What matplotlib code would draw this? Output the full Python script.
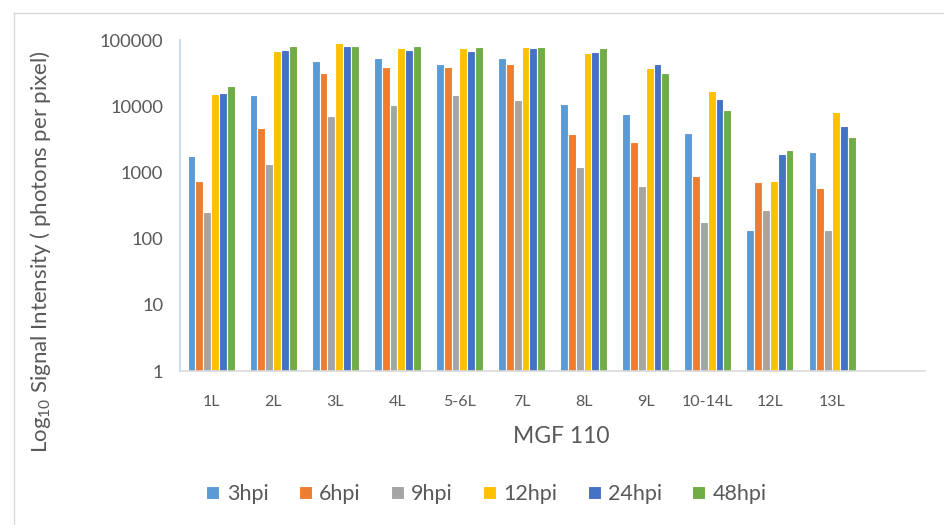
import numpy as np
import matplotlib
matplotlib.use('Agg')
import matplotlib.pyplot as plt
from matplotlib.lines import Line2D

plt.rcParams['font.family'] = ['Lato', 'DejaVu Sans']
plt.rcParams['mathtext.fontset'] = 'custom'
plt.rcParams['mathtext.rm'] = 'Lato'

# values (photons per pixel)
categories = ['1L', '2L', '3L', '4L', '5-6L', '7L', '8L', '9L', '10-14L', '12L', '13L']
series = ['3hpi', '6hpi', '9hpi', '12hpi', '24hpi', '48hpi']
hpi_3 = [1800, 14600, 47700, 52900, 43000, 52900, 10900, 7600, 4000, 135, 2000]
hpi_6 = [740, 4650, 31700, 38700, 39100, 43900, 3800, 2850, 890, 725, 580]
hpi_9 = [250, 1350, 7200, 10400, 14800, 12400, 1220, 620, 178, 268, 135]
hpi_12 = [15100, 68200, 90100, 74900, 74900, 78400, 64300, 38200, 16800, 740, 8260]
hpi_24 = [15800, 69900, 80300, 69900, 68200, 74900, 65900, 43000, 13000, 1920, 4970]
hpi_48 = [20400, 81200, 81200, 81200, 77600, 78400, 74900, 31700, 8670, 2150, 3390]
colors = ['#5B9BD5', '#ED7D31', '#A5A5A5', '#FFC000', '#4472C4', '#70AD47']

text_color = '#595959'

fig = plt.figure(figsize=(9.45, 5.25), dpi=100)
ax = fig.add_axes([0.1905, 0.2933, 0.7885, 0.6305])

x = np.arange(len(categories))
group = 0.757
w = group / len(series)
for i, (name, vals) in enumerate(zip(series, [hpi_3, hpi_6, hpi_9, hpi_12, hpi_24, hpi_48])):
    ax.bar(x - group / 2 + w * (i + 0.5), vals, width=w, color=colors[i],
           edgecolor='white', linewidth=0.8, label=name, zorder=2)

ax.set_yscale('log')
ax.set_ylim(1, 100000)
ax.set_xlim(-0.5, 11.5)
ax.set_yticks([1, 10, 100, 1000, 10000, 100000])
ax.set_yticklabels(['1', '10', '100', '1000', '10000', '100000'])
ax.yaxis.set_minor_locator(matplotlib.ticker.NullLocator())
ax.set_xticks(x)
ax.set_xticklabels(categories)
ax.tick_params(axis='y', length=0, pad=12, labelsize=13.2, labelcolor=text_color)
ax.tick_params(axis='x', length=0, pad=17, labelsize=11.5, labelcolor=text_color)

for s in ['top', 'right']:
    ax.spines[s].set_visible(False)
ax.spines['bottom'].set_color('#D9D9D9')
ax.spines['bottom'].set_linewidth(1.2)
ax.spines['left'].set_color('#BDD7EE')
ax.spines['left'].set_linewidth(1.2)

ax.set_ylabel('Log$_{10}$ Signal Intensity ( photons per pixel)', fontsize=16, color=text_color)
ax.yaxis.set_label_coords(-0.17, 0.36)
ax.set_xlabel('MGF 110', fontsize=16.5, color=text_color)
ax.xaxis.set_label_coords(0.511, -0.165)

fig.legend(loc='center', bbox_to_anchor=(0.515, 0.059), ncol=6, frameon=False,
           handlelength=0.6, handleheight=0.6, handletextpad=0.35, columnspacing=1.4,
           fontsize=15.5, labelcolor=text_color)

# light chart border (top and left edges visible)
fig.add_artist(Line2D([14 / 945, 1], [1 - 13 / 525, 1 - 13 / 525], color='#D9D9D9', lw=1))
fig.add_artist(Line2D([14 / 945, 14 / 945], [0, 1 - 13 / 525], color='#D9D9D9', lw=1))

plt.savefig('out.png', dpi=100)
plt.close()
